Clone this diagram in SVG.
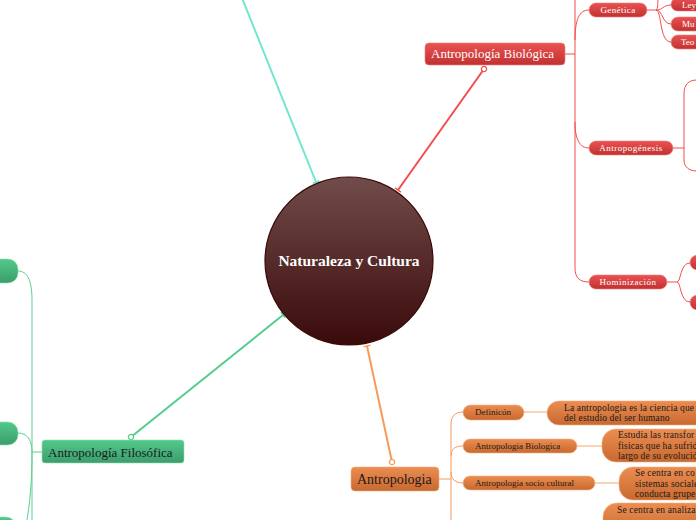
<svg xmlns="http://www.w3.org/2000/svg" width="696" height="520" viewBox="0 0 696 520">
<style>
text{font-family:"Liberation Serif","DejaVu Serif",serif}
.wt{fill:#fff}
.bk{fill:#1a1a1a}
.ds{font-size:9.5px;letter-spacing:0.15px}
.red{fill:url(#gRed);stroke:#f08080;stroke-width:0.6}
.org{fill:url(#gOrg);stroke:#f5b080;stroke-width:0.6}
.grn{fill:url(#gGrn);stroke:#8ee0b0;stroke-width:0.6}
.cr{fill:none;stroke:#f24d4d;stroke-width:1}
.co{fill:none;stroke:#f89a5a;stroke-width:1}
.col{fill:none;stroke:#fbc49c;stroke-width:1.5}
.cg{fill:none;stroke:#5ccf90;stroke-width:1}
</style>
<defs>
<linearGradient id="gRed" x1="0" y1="0" x2="0" y2="1"><stop offset="0" stop-color="#ea5252"/><stop offset="1" stop-color="#c13131"/></linearGradient>
<linearGradient id="gOrg" x1="0" y1="0" x2="0" y2="1"><stop offset="0" stop-color="#ec8d52"/><stop offset="1" stop-color="#c8692f"/></linearGradient>
<linearGradient id="gGrn" x1="0" y1="0" x2="0" y2="1"><stop offset="0" stop-color="#52c98a"/><stop offset="1" stop-color="#3c9d6b"/></linearGradient>
<linearGradient id="gCen" x1="0" y1="0" x2="0" y2="1"><stop offset="0" stop-color="#714c4a"/><stop offset="1" stop-color="#3a0a0a"/></linearGradient>
<marker id="tCy" viewBox="-1 -4 2 8" markerWidth="2" markerHeight="8" refX="0" refY="0" orient="auto" markerUnits="userSpaceOnUse"><path d="M0,-3.5V3.5" stroke="#6de8d0" stroke-width="1.5"/></marker>
<marker id="tR" viewBox="-1 -4 2 8" markerWidth="2" markerHeight="8" refX="0" refY="0" orient="auto" markerUnits="userSpaceOnUse"><path d="M0,-3.5V3.5" stroke="#f24d4d" stroke-width="1.5"/></marker>
<marker id="tG" viewBox="-1 -4 2 8" markerWidth="2" markerHeight="8" refX="0" refY="0" orient="auto" markerUnits="userSpaceOnUse"><path d="M0,-3.5V3.5" stroke="#55cc8c" stroke-width="1.5"/></marker>
<marker id="tO" viewBox="-1 -4 2 8" markerWidth="2" markerHeight="8" refX="0" refY="0" orient="auto" markerUnits="userSpaceOnUse"><path d="M0,-3.5V3.5" stroke="#f89a5a" stroke-width="1.5"/></marker>
<marker id="dR" viewBox="-4 -4 8 8" markerWidth="8" markerHeight="8" refX="0" refY="0" markerUnits="userSpaceOnUse"><circle r="2.6" fill="#fff" stroke="#f24d4d" stroke-width="1.3"/></marker>
<marker id="dG" viewBox="-4 -4 8 8" markerWidth="8" markerHeight="8" refX="0" refY="0" markerUnits="userSpaceOnUse"><circle r="2.6" fill="#fff" stroke="#55cc8c" stroke-width="1.3"/></marker>
<marker id="dO" viewBox="-4 -4 8 8" markerWidth="8" markerHeight="8" refX="0" refY="0" markerUnits="userSpaceOnUse"><circle r="2.6" fill="#fff" stroke="#f89a5a" stroke-width="1.3"/></marker>
</defs>
<rect width="696" height="520" fill="#fff"/>

<g id="connectors">
<path d="M242,-2 L316,182" fill="none" stroke="#6de8d0" stroke-width="2" marker-end="url(#tCy)"/>
<path d="M484,69 L398,190" fill="none" stroke="#f24d4d" stroke-width="2" marker-start="url(#dR)" marker-end="url(#tR)"/>
<path d="M131,437 L283,315" fill="none" stroke="#55cc8c" stroke-width="2" marker-start="url(#dG)" marker-end="url(#tG)"/>
<path d="M392,462 L367,346" fill="none" stroke="#f89a5a" stroke-width="2" marker-start="url(#dO)" marker-end="url(#tO)"/>
<path class="cr" d="M565,54 H575"/>
<path class="cr" d="M575,-10 V268 C575,278 580,282 589,282"/>
<path class="cr" d="M575,122 C575,140 580,148 589,148"/>
<path class="cr" d="M575,40 C575,20 579,10 589,10"/>
<path class="cr" d="M647,10 H656"/>
<path class="cr" d="M656,10 C663,10 663,5 671,5"/>
<path class="cr" d="M656,10 C663,10 662,24 671,24"/>
<path class="cr" d="M656,10 C662,10 659,42 671,42"/>
<path class="cr" d="M656,10 C658,10 658,2 658,-10"/>
<path class="cr" d="M673,148 H684"/>
<path class="cr" d="M697,80 C689,80 684,84 684,94 V160 C684,167 689,171 697,171"/>
<path class="cr" d="M667,282 H677"/>
<path class="cr" d="M677,282 C681,282 680,263 690,263"/>
<path class="cr" d="M677,282 C681,282 680,302 690,302"/>
<path class="co" d="M439,479 H451"/>
<path class="co" d="M451,530 V425 C451,416 455,412 463,412"/>
<path class="co" d="M451,456 C451,449 455,446 463,446"/>
<path class="co" d="M451,472 C451,479 455,483 463,483"/>
<path class="col" d="M524,412 H548"/>
<path class="col" d="M577,446 H603"/>
<path class="col" d="M595,483 H620"/>
<path class="cg" d="M42,452 H32"/>
<path class="cg" d="M18,271 C27,271 32,280 32,300 V525"/>
<path class="cg" d="M18,433 C27,433 32,440 32,452"/>
<path class="cg" d="M32,452 C32,480 30,505 26,525"/>
</g>

<g id="central">
<circle cx="349" cy="261" r="84" fill="url(#gCen)" stroke="#3a0808" stroke-width="1.2"/>
<text x="349" y="266" text-anchor="middle" class="wt" font-size="15.5" font-weight="bold">Naturaleza y Cultura</text>
</g>

<g id="antropologia-biologica">
<rect class="red" x="425" y="43" width="140" height="22" rx="4"/>
<text x="431" y="58" class="wt" font-size="13">Antropología Biológica</text>
</g>
<g id="genetica">
<rect class="red" x="589" y="3" width="58" height="14" rx="7"/>
<text x="618" y="13" text-anchor="middle" class="wt" font-size="9" letter-spacing="0.4">Genética</text>
</g>
<g id="ley"><rect class="red" x="671" y="-2" width="40" height="13" rx="6.5"/><text x="682" y="8" class="wt" font-size="9">Ley</text></g>
<g id="mu"><rect class="red" x="671" y="17" width="40" height="14" rx="7"/><text x="682" y="27" class="wt" font-size="9">Mu</text></g>
<g id="teo"><rect class="red" x="671" y="35" width="40" height="14" rx="7"/><text x="681" y="45" class="wt" font-size="9">Teo</text></g>
<g id="antropogenesis">
<rect class="red" x="589" y="141" width="84" height="14" rx="7"/>
<text x="631" y="151" text-anchor="middle" class="wt" font-size="9" letter-spacing="0.5">Antropogénesis</text>
</g>
<g id="hominizacion">
<rect class="red" x="589" y="275" width="78" height="14" rx="7"/>
<text x="628" y="285" text-anchor="middle" class="wt" font-size="9" letter-spacing="0.5">Hominización</text>
</g>
<g id="hom-a"><rect class="red" x="690" y="255" width="30" height="15" rx="7.5"/></g>
<g id="hom-b"><rect class="red" x="690" y="295" width="30" height="15" rx="7.5"/></g>

<g id="antropologia">
<rect class="org" x="351" y="467" width="88" height="24" rx="4"/>
<text x="357" y="484" class="bk" font-size="14">Antropologia</text>
</g>
<g id="definicion">
<rect class="org" x="463" y="405" width="61" height="15" rx="7.5"/>
<text x="475" y="415" class="bk" font-size="9">Definicón</text>
</g>
<g id="def-desc">
<rect class="org" x="547" y="401" width="170" height="24" rx="12"/>
<text class="bk ds"><tspan x="564" y="411">La antropologia es la ciencia que s</tspan><tspan x="564" y="421">del estudio del ser humano</tspan></text>
</g>
<g id="antropologia-biologica-2">
<rect class="org" x="463" y="439" width="114" height="14" rx="7"/>
<text x="475" y="449" class="bk" font-size="9">Antropologia Biologica</text>
</g>
<g id="bio-desc">
<rect class="org" x="602" y="429" width="120" height="33" rx="14"/>
<text class="bk ds"><tspan x="618" y="438">Estudia las transfor</tspan><tspan x="618" y="449">fisicas que ha sufrid</tspan><tspan x="618" y="459">largo de su evolució</tspan></text>
</g>
<g id="antropologia-socio-cultural">
<rect class="org" x="463" y="476" width="132" height="14" rx="7"/>
<text x="475" y="486" class="bk" font-size="9">Antropologia socio cultural</text>
</g>
<g id="socio-desc">
<rect class="org" x="619" y="467" width="110" height="33" rx="14"/>
<text class="bk ds"><tspan x="635" y="476">Se centra en co</tspan><tspan x="635" y="487">sistemas sociale</tspan><tspan x="635" y="497">conducta grupe</tspan></text>
</g>
<g id="desc-4">
<rect class="org" x="603" y="503" width="120" height="33" rx="14"/>
<text class="bk ds"><tspan x="617" y="513">Se centra en analiza</tspan></text>
</g>

<g id="antropologia-filosofica">
<rect class="grn" x="42" y="440" width="142" height="23" rx="3"/>
<text x="48" y="457" class="bk" font-size="13">Antropología Filosófica</text>
</g>
<g id="fil-a"><rect class="grn" x="-20" y="259" width="38" height="24" rx="10"/></g>
<g id="fil-b"><rect class="grn" x="-20" y="422" width="38" height="23" rx="10"/></g>
<g id="fil-c"><rect class="grn" x="-20" y="517" width="36" height="23" rx="10"/></g>
</svg>
